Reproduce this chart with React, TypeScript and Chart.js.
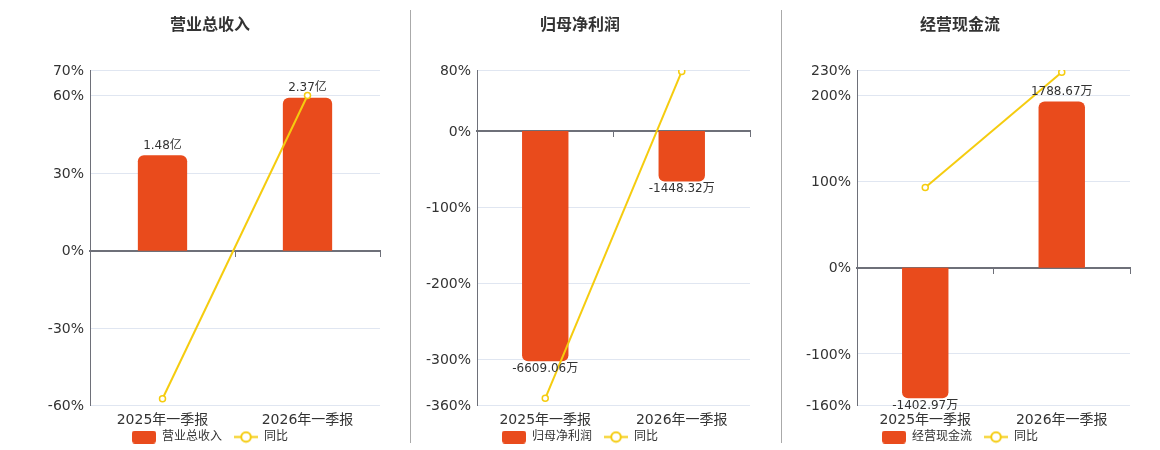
import React, { useEffect, useRef } from 'react';
import { Chart, registerables } from 'chart.js';

Chart.register(...registerables);

const FONT = '"DejaVu Sans", "Noto Sans CJK SC", sans-serif';

// ---- data ----
const categories = ['2025年一季报', '2026年一季报'];

const revenueValues = [1.48, 2.37]; // 亿
const revenueYoy = [-57.4, 60.14]; // %
const revenueTicks = [-60, -30, 0, 30, 60, 70];

const profitValues = [-6609.06, -1448.32]; // 万
const profitYoy = [-350.6, 78.09];
const profitTicks = [-360, -300, -200, -100, 0, 80];

const cashValues = [-1402.97, 1788.67]; // 万
const cashYoy = [93.5, 227.49];
const cashTicks = [-160, -100, 0, 100, 200, 230];

const yoyName = '同比';

type Panel = {
  title: string;
  values: number[];
  yoy: number[];
  ticks: number[];
  unit: string;
  barScale: number; // bar units per percent on hidden axis
  left: number;
  axisWidth: number;
};

const panels: Panel[] = [
  { title: '营业总收入', values: revenueValues, yoy: revenueYoy, ticks: revenueTicks, unit: '亿', barScale: 0.04, left: 40, axisWidth: 50 },
  { title: '归母净利润', values: profitValues, yoy: profitYoy, ticks: profitTicks, unit: '万', barScale: 21.89, left: 410, axisWidth: 67 },
  { title: '经营现金流', values: cashValues, yoy: cashYoy, ticks: cashTicks, unit: '万', barScale: 9.25, left: 790, axisWidth: 67 },
];

const BAR_COLOR = '#E94B1C';
const LINE_COLOR = '#F5CC0F';
const GRID_COLOR = '#E0E6F1';
const AXIS_COLOR = '#6E7079';
const TEXT_COLOR = '#333333';

function makeBarIcon(): HTMLCanvasElement {
  const c = document.createElement('canvas');
  c.width = 24;
  c.height = 13;
  const g = c.getContext('2d')!;
  g.fillStyle = BAR_COLOR;
  g.beginPath();
  (g as any).roundRect(0, 0, 24, 13, 3);
  g.fill();
  return c;
}

function makeLineIcon(): HTMLCanvasElement {
  const c = document.createElement('canvas');
  c.width = 24;
  c.height = 13;
  const g = c.getContext('2d')!;
  g.strokeStyle = LINE_COLOR;
  g.lineWidth = 2;
  g.beginPath();
  g.moveTo(0, 6.5);
  g.lineTo(24, 6.5);
  g.stroke();
  g.beginPath();
  g.arc(12, 6.5, 4.8, 0, Math.PI * 2);
  g.fillStyle = '#ffffff';
  g.fill();
  g.stroke();
  return c;
}

const barLabelPlugin = {
  id: 'barLabels',
  afterDatasetsDraw(chart: any, _args: any, opts: any) {
    const meta = chart.getDatasetMeta(0);
    const ds = chart.data.datasets[0];
    const ctx = chart.ctx;
    ctx.save();
    ctx.font = `12px ${FONT}`;
    ctx.fillStyle = TEXT_COLOR;
    ctx.textAlign = 'center';
    ctx.textBaseline = 'middle';
    meta.data.forEach((el: any, i: number) => {
      const v = ds.data[i] as number;
      const text = v.toFixed(2) + opts.unit;
      if (v >= 0) ctx.fillText(text, el.x, el.y - 9.5);
      else ctx.fillText(text, el.x, el.y + 7.5);
    });
    ctx.restore();
  },
};

function PanelChart({ p }: { p: Panel }) {
  const ref = useRef<HTMLCanvasElement | null>(null);
  useEffect(() => {
    if (!ref.current) return;
    const yMin = p.ticks[0];
    const yMax = p.ticks[p.ticks.length - 1];
    const barIcon = makeBarIcon();
    const lineIcon = makeLineIcon();
    const chart = new Chart(ref.current, {
      type: 'bar',
      data: {
        labels: categories,
        datasets: [
          {
            type: 'bar',
            label: p.title,
            data: p.values,
            backgroundColor: BAR_COLOR,
            borderRadius: 6,
            borderSkipped: 'start',
            barPercentage: 0.34,
            categoryPercentage: 1,
            xAxisID: 'x',
            yAxisID: 'yb',
            order: 1,
          } as any,
          {
            type: 'line',
            label: yoyName,
            data: p.yoy,
            borderColor: LINE_COLOR,
            borderWidth: 2,
            pointRadius: 3,
            pointBorderWidth: 1.5,
            pointBackgroundColor: '#ffffff',
            pointBorderColor: LINE_COLOR,
            tension: 0,
            xAxisID: 'x',
            yAxisID: 'y',
            order: 0,
          } as any,
        ],
      },
      options: {
        animation: false,
        responsive: false,
        devicePixelRatio: 1,
        layout: { autoPadding: false, padding: { left: 0, right: 1, top: 0, bottom: 0 } },
        plugins: {
          title: {
            display: true,
            text: p.title,
            color: TEXT_COLOR,
            font: { family: FONT, size: 16, weight: 'bold' },
            padding: { top: 16.5, bottom: 34.3 },
          },
          legend: {
            display: true,
            position: 'bottom',
            onClick: () => {},
            labels: {
              usePointStyle: true,
              pointStyleWidth: 24,
              boxHeight: 12,
              padding: 12,
              color: TEXT_COLOR,
              font: { family: FONT, size: 12 },
              generateLabels: () => [
                { text: p.title, pointStyle: barIcon as any, fillStyle: BAR_COLOR, strokeStyle: BAR_COLOR, lineWidth: 0, hidden: false, datasetIndex: 0, fontColor: TEXT_COLOR } as any,
                { text: yoyName, pointStyle: lineIcon as any, fillStyle: '#fff', strokeStyle: LINE_COLOR, lineWidth: 0, hidden: false, datasetIndex: 1, fontColor: TEXT_COLOR } as any,
              ],
            },
          },
          tooltip: { enabled: false },
          barLabels: { unit: p.unit },
        } as any,
        scales: {
          x: {
            type: 'category',
            position: 'bottom',
            offset: true,
            grid: { display: false, drawTicks: false, offset: true },
            border: { display: false },
            ticks: { color: TEXT_COLOR, font: { family: FONT, size: 14, lineHeight: 2.15 }, padding: 0, maxRotation: 0, autoSkip: false },
            afterFit: (s: any) => {
              s.height = 13.5;
              s._computeLabelArea = () => undefined;
            },
          },
          x2: {
            type: 'category',
            position: { y: 0 } as any,
            offset: true,
            grid: { display: true, drawOnChartArea: false, drawTicks: true, tickLength: 5, color: AXIS_COLOR, lineWidth: 1, offset: true },
            border: { display: true, color: AXIS_COLOR, width: 2 },
            ticks: { display: false, padding: 0 },
          },
          y: {
            type: 'linear',
            position: 'left',
            min: yMin,
            max: yMax,
            afterBuildTicks: (s: any) => { s.ticks = p.ticks.map((v) => ({ value: v })); },
            afterFit: (s: any) => { s.width = p.axisWidth; },
            grid: {
              drawTicks: false,
              color: (c: any) => (c.tick && c.tick.value === 0 ? 'rgba(0,0,0,0)' : GRID_COLOR),
              lineWidth: 1,
            },
            border: { display: true, color: AXIS_COLOR, width: 1 },
            ticks: {
              color: TEXT_COLOR,
              font: { family: FONT, size: 14 },
              padding: 6,
              labelOffset: 1,
              callback: (v: any) => `${v}%`,
            },
          },
          yb: {
            type: 'linear',
            display: false,
            min: yMin * p.barScale,
            max: yMax * p.barScale,
          },
        },
      } as any,
      plugins: [barLabelPlugin as any],
    });
    return () => chart.destroy();
  }, [p]);
  return (
    <canvas
      ref={ref}
      width={341}
      height={453}
      style={{ position: 'absolute', left: p.left, top: 0, width: 341, height: 453 }}
    />
  );
}

export default function App() {
  return (
    <div style={{ position: 'absolute', left: 0, top: 0, width: 1160, height: 450, overflow: 'hidden', background: '#fff' }}>
      {panels.map((p) => (
        <PanelChart key={p.title} p={p} />
      ))}
      <div style={{ position: 'absolute', left: 410, top: 10, width: 1, height: 433, background: '#AAAAAA' }} />
      <div style={{ position: 'absolute', left: 781, top: 10, width: 1, height: 433, background: '#AAAAAA' }} />
    </div>
  );
}
